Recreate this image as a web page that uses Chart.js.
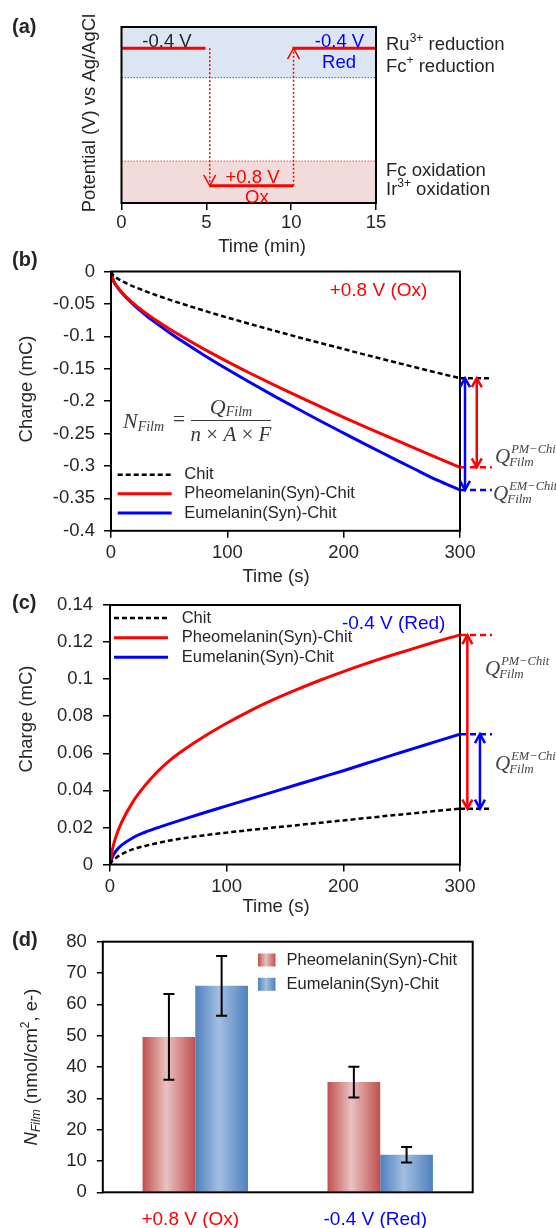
<!DOCTYPE html>
<html lang="en">
<head>
<meta charset="utf-8">
<title>Film charge and electron count</title>
<script src="https://cdn.jsdelivr.net/npm/chart.js@4.4.1/dist/chart.umd.min.js"></script>
<style>
  html, body { margin: 0; padding: 0; background: #fff; }
  #figure { position: relative; width: 556px; height: 1228px; }
  #figure canvas { position: absolute; left: 0; top: 0; }
</style>
</head>
<body>
<div id="figure">
  <canvas id="programChart" width="556" height="1228"></canvas>
  <canvas id="oxChart" width="556" height="1228"></canvas>
  <canvas id="redChart" width="556" height="1228"></canvas>
  <canvas id="filmChart" width="556" height="1228"></canvas>
</div>
<script>
// (a) potential program, time in min
const holdStart = [0, 5.2, 10.07];
const holdEnd = [4.95, 10.14, 15];
const holdPotential = [-0.4, 0.8, -0.4];
const switchTimes = [5.2, 10.14];
const reductionEdge = -0.143;
const oxidationEdge = 0.584;
const potentialMin = -0.585;
const potentialMax = 0.95;

// (b), (c) charge transients, time in s, charge in mC
const times = [0, 2, 5, 10, 20, 30, 40, 50, 60, 80, 100, 120, 140, 160, 180, 200, 220, 240, 260, 280, 300];
const oxChit = [0, -0.006, -0.0102, -0.0153, -0.0236, -0.0307, -0.0372, -0.0434, -0.0492, -0.0604, -0.0710,
  -0.0812, -0.0912, -0.1009, -0.1104, -0.1197, -0.1290, -0.1381, -0.1471, -0.1560, -0.1646];
const oxPheo = [0, -0.0138, -0.0227, -0.0335, -0.0502, -0.0642, -0.0767, -0.0883, -0.0992, -0.1198, -0.1390,
  -0.1573, -0.1749, -0.1920, -0.2086, -0.2249, -0.2408, -0.2564, -0.2718, -0.2870, -0.3020];
const oxEu = [0, -0.0139, -0.0231, -0.0345, -0.0523, -0.0675, -0.0812, -0.0940, -0.1062, -0.1292, -0.1509,
  -0.1717, -0.1918, -0.2114, -0.2306, -0.2493, -0.2678, -0.2859, -0.3039, -0.3216, -0.3370];
const redChit = [0, 0.002, 0.0035, 0.0055, 0.0083, 0.0100, 0.0115, 0.0128, 0.0139, 0.0157, 0.0172,
  0.0186, 0.0199, 0.0212, 0.0225, 0.0238, 0.0251, 0.0264, 0.0276, 0.0289, 0.0301];
const redPheo = [0, 0.0080, 0.0148, 0.0228, 0.0342, 0.0426, 0.0496, 0.0555, 0.0604, 0.0688, 0.0762,
  0.0829, 0.0889, 0.0943, 0.0994, 0.1041, 0.1085, 0.1126, 0.1165, 0.1203, 0.1238];
const redEu = [0, 0.0040, 0.0072, 0.0104, 0.0146, 0.0174, 0.0197, 0.0218, 0.0238, 0.0278, 0.0316,
  0.0354, 0.0392, 0.0430, 0.0468, 0.0506, 0.0546, 0.0586, 0.0625, 0.0664, 0.0703];

// (d) electrons per film area, nmol/cm2
const potentialLabels = ['+0.8 V (Ox)', '-0.4 V (Red)'];
const nPheo = [49.6, 35.2];
const nPheoErr = [13.7, 4.9];
const nEu = [65.9, 12.0];
const nEuErr = [9.5, 2.5];

const W = 556, H = 1228;
const sans = '"Liberation Sans", Arial, sans-serif';
const serif = '"Liberation Serif", "Times New Roman", serif';
const ink = '#262626';
const RED = '#ff0000';
const BLUE = '#0000ff';

Chart.defaults.font.family = sans;
Chart.defaults.font.size = 18.5;
Chart.defaults.color = ink;
Chart.defaults.animation = false;
Chart.defaults.plugins.legend.display = false;
Chart.defaults.plugins.tooltip.enabled = false;
Chart.defaults.elements.point.radius = 0;

const font = (size, style = '') => `${style} ${size}px ${sans}`.trim();
const sfont = (size, style = '') => `${style} ${size}px ${serif}`.trim();

function drawRuns(ctx, runs, x, y, align = 'left') {
  let w = 0;
  for (const r of runs) { ctx.font = r.f || font(18.5); w += ctx.measureText(r.text).width; }
  let cx = align === 'center' ? x - w / 2 : (align === 'right' ? x - w : x);
  ctx.textAlign = 'left';
  for (const r of runs) {
    ctx.font = r.f || font(18.5);
    ctx.fillStyle = r.color || ink;
    ctx.fillText(r.text, cx, y + (r.dy || 0));
    cx += ctx.measureText(r.text).width;
  }
}

// text laid out on the page: panel letters, axis titles, tags
function pageText(items) {
  return {
    id: 'pageText',
    afterDraw(chart) {
      const ctx = chart.ctx;
      ctx.save();
      ctx.textBaseline = 'middle';
      for (const it of items) {
        const runs = it.runs || [{text: it.text, f: it.f, color: it.color}];
        if (it.rotate) {
          ctx.save();
          ctx.translate(it.x, it.y);
          ctx.rotate(-Math.PI / 2);
          drawRuns(ctx, runs, 0, 0, 'center');
          ctx.restore();
        } else {
          drawRuns(ctx, runs, it.x, it.y, it.align || 'center');
        }
      }
      ctx.restore();
    }
  };
}

const frame = {
  id: 'frame',
  afterDatasetsDraw(chart) {
    const {ctx, chartArea: a} = chart;
    ctx.save();
    ctx.strokeStyle = '#000';
    ctx.lineWidth = 2;
    ctx.strokeRect(a.left, a.top, a.right - a.left, a.bottom - a.top);
    ctx.restore();
  }
};

// open V arrowhead, dir 1 points down the page, -1 up
function chevron(ctx, x, y, dir, half, len) {
  ctx.beginPath();
  ctx.moveTo(x - half, y - dir * len);
  ctx.lineTo(x, y);
  ctx.lineTo(x + half, y - dir * len);
  ctx.stroke();
}

function padFor(box) {
  return {left: 0, top: box.top, right: W - box.right, bottom: 0};
}

function xLinear(box, min, max, step, pad) {
  return {
    type: 'linear', min, max,
    ticks: {stepSize: step, padding: pad, maxRotation: 0},
    grid: {drawOnChartArea: false, tickLength: 7, color: '#000', lineWidth: 1.5},
    border: {display: false},
    afterFit: s => { s.height = H - box.bottom; }
  };
}

function yLinear(box, min, max, step, pad) {
  return {
    type: 'linear', min, max,
    ticks: {stepSize: step, padding: pad, callback: v => String(+v.toFixed(2))},
    grid: {drawOnChartArea: false, tickLength: 7, color: '#000', lineWidth: 1.5},
    border: {display: false},
    afterFit: s => { s.width = box.left; }
  };
}

const points = ys => times.map((t, i) => ({x: t, y: ys[i]}));

function chargeSets(chit, pheo, eu) {
  return [
    {label: 'Chit', data: points(chit), borderColor: '#000', borderWidth: 2.5, borderDash: [5, 3], cubicInterpolationMode: 'monotone'},
    {label: 'Pheomelanin(Syn)-Chit', data: points(pheo), borderColor: RED, borderWidth: 3, cubicInterpolationMode: 'monotone'},
    {label: 'Eumelanin(Syn)-Chit', data: points(eu), borderColor: BLUE, borderWidth: 3, cubicInterpolationMode: 'monotone'}
  ];
}

function lineLegend(x0, x1, textX, rows) {
  return {
    id: 'lineLegend',
    afterDraw(chart) {
      const ctx = chart.ctx;
      ctx.save();
      ctx.textBaseline = 'middle';
      chart.data.datasets.forEach((ds, i) => {
        const y = rows[i];
        ctx.strokeStyle = ds.borderColor;
        ctx.lineWidth = ds.borderWidth;
        ctx.setLineDash(ds.borderDash || []);
        ctx.beginPath();
        ctx.moveTo(x0, y);
        ctx.lineTo(x1, y);
        ctx.stroke();
        ctx.fillStyle = ink;
        ctx.font = font(16.5);
        ctx.fillText(ds.label, textX, y);
      });
      ctx.restore();
    }
  };
}

function drawQ(ctx, x, base, sup) {
  ctx.save();
  ctx.fillStyle = '#444';
  ctx.textBaseline = 'alphabetic';
  ctx.textAlign = 'left';
  ctx.font = sfont(21, 'italic');
  ctx.fillText('Q', x, base);
  const w = ctx.measureText('Q').width;
  ctx.font = sfont(12.5, 'italic');
  ctx.fillText(sup, x + w + 1, base - 10);
  ctx.font = sfont(13, 'italic');
  ctx.fillText('Film', x + w - 1, base + 3);
  ctx.restore();
}

// film-charge brackets at the end of each transient
function chargeMarks(ends, extendTo, arrows, qLabels) {
  return {
    id: 'chargeMarks',
    afterDatasetsDraw(chart) {
      const {ctx, scales: {x, y}} = chart;
      const xEnd = x.getPixelForValue(times[times.length - 1]);
      ctx.save();
      ends.forEach(e => {
        const py = y.getPixelForValue(e.value);
        ctx.strokeStyle = e.color;
        ctx.lineWidth = 2.5;
        ctx.setLineDash(e.color === '#000' ? [5, 3] : [6, 4]);
        ctx.beginPath();
        ctx.moveTo(xEnd, py);
        ctx.lineTo(x.getPixelForValue(extendTo), py);
        ctx.stroke();
      });
      ctx.setLineDash([]);
      arrows.forEach(a => {
        const px = x.getPixelForValue(a.t);
        const y0 = y.getPixelForValue(a.from);
        const y1 = y.getPixelForValue(a.to);
        const dir = Math.sign(y1 - y0);
        ctx.strokeStyle = a.color;
        ctx.lineWidth = 2.5;
        ctx.beginPath();
        ctx.moveTo(px, y0);
        ctx.lineTo(px, y1);
        ctx.stroke();
        chevron(ctx, px, y1, dir, 5, 9);
        chevron(ctx, px, y0, -dir, 5, 9);
      });
      ctx.restore();
      qLabels.forEach(q => drawQ(ctx, x.getPixelForValue(q.t), y.getPixelForValue(q.v), q.sup));
    }
  };
}

// ---------- (a) ----------
const boxA = {left: 121.5, top: 27, right: 376, bottom: 203};
const programSets = [
  {data: [{x: 0, y: reductionEdge}, {x: 15, y: reductionEdge}], borderColor: '#3a55ff', borderWidth: 1,
    borderDash: [1.5, 1.5], backgroundColor: '#dce6f2', fill: {value: potentialMin}, order: 5},
  {data: [{x: 0, y: oxidationEdge}, {x: 15, y: oxidationEdge}], borderColor: '#ff4a4a', borderWidth: 1,
    borderDash: [1.5, 1.5], backgroundColor: '#f2dcdb', fill: {value: potentialMax}, order: 5},
  ...holdPotential.map((v, i) => ({data: [{x: holdStart[i], y: v}, {x: holdEnd[i], y: v}],
    borderColor: RED, borderWidth: 3, order: 0})),
  ...switchTimes.map((t, i) => ({data: [{x: t, y: holdPotential[i]}, {x: t, y: holdPotential[i + 1]}],
    borderColor: RED, borderWidth: 1.5, borderDash: [2, 2], order: 1}))
];

const programTags = [
  {t: 2.68, v: -0.4, dy: -6.6, text: '-0.4 V', color: ink},
  {t: 12.85, v: -0.4, dy: -6.6, text: '-0.4 V', color: BLUE},
  {t: 12.82, v: -0.4, dy: 14.7, text: 'Red', color: BLUE},
  {t: 7.72, v: 0.8, dy: -7.7, text: '+0.8 V', color: RED},
  {t: 7.98, v: 0.8, dy: 12.3, text: 'Ox', color: RED}
];

const programMarks = {
  id: 'programMarks',
  afterDatasetsDraw(chart) {
    const {ctx, scales: {x, y}} = chart;
    ctx.save();
    ctx.strokeStyle = RED;
    ctx.lineWidth = 1.5;
    switchTimes.forEach((t, i) => {
      const from = y.getPixelForValue(holdPotential[i]);
      const tip = y.getPixelForValue(holdPotential[i + 1]);
      chevron(ctx, x.getPixelForValue(t), tip, Math.sign(tip - from), 6, 11);
    });
    ctx.textBaseline = 'middle';
    ctx.textAlign = 'center';
    ctx.font = font(18.5);
    programTags.forEach(l => {
      ctx.fillStyle = l.color;
      ctx.fillText(l.text, x.getPixelForValue(l.t), y.getPixelForValue(l.v) + l.dy);
    });
    ctx.restore();
  }
};

const sup = (s, dy = -6) => ({text: s, f: font(12), dy});

new Chart(document.getElementById('programChart'), {
  type: 'line',
  data: {datasets: programSets},
  options: {
    responsive: false,
    devicePixelRatio: 1,
    layout: {padding: padFor(boxA)},
    scales: {
      x: xLinear(boxA, 0, 15, 5, 2),
      y: {type: 'linear', reverse: true, min: potentialMin, max: potentialMax,
        ticks: {display: false}, grid: {display: false}, border: {display: false},
        afterFit: s => { s.width = boxA.left; }}
    }
  },
  plugins: [frame, programMarks, pageText([
    {text: '(a)', x: 12, y: 27, align: 'left', f: font(20, 'bold')},
    {text: 'Potential (V) vs Ag/AgCl', x: 90, y: 113, rotate: true},
    {text: 'Time (min)', x: 262, y: 247},
    {runs: [{text: 'Ru'}, sup('3+'), {text: ' reduction'}], x: 386, y: 45, align: 'left'},
    {runs: [{text: 'Fc'}, sup('+'), {text: ' reduction'}], x: 386, y: 67, align: 'left'},
    {text: 'Fc oxidation', x: 386, y: 171, align: 'left'},
    {runs: [{text: 'Ir'}, sup('3+'), {text: ' oxidation'}], x: 386, y: 190, align: 'left'}
  ])]
});

// ---------- (b) ----------
const boxB = {left: 111, top: 271.5, right: 460, bottom: 530.8};
const last = a => a[a.length - 1];

const filmFormula = {
  id: 'filmFormula',
  afterDraw(chart) {
    const ctx = chart.ctx;
    ctx.save();
    ctx.textBaseline = 'alphabetic';
    const g = '#3a3a3a';
    drawRuns(ctx, [{text: 'N', f: sfont(22, 'italic'), color: g},
      {text: 'Film', f: sfont(14, 'italic'), dy: 3, color: g}], 123, 428, 'left');
    drawRuns(ctx, [{text: '=', f: sfont(22), color: g}], 179, 426, 'center');
    drawRuns(ctx, [{text: 'Q', f: sfont(22, 'italic'), color: g},
      {text: 'Film', f: sfont(14, 'italic'), dy: 2, color: g}], 231, 414, 'center');
    ctx.strokeStyle = g;
    ctx.lineWidth = 1.2;
    ctx.beginPath();
    ctx.moveTo(191, 420.5);
    ctx.lineTo(271, 420.5);
    ctx.stroke();
    drawRuns(ctx, [{text: 'n', f: sfont(21, 'italic'), color: g}, {text: ' × ', f: sfont(21), color: g},
      {text: 'A', f: sfont(21, 'italic'), color: g}, {text: ' × ', f: sfont(21), color: g},
      {text: 'F', f: sfont(21, 'italic'), color: g}], 231, 441, 'center');
    ctx.restore();
  }
};

new Chart(document.getElementById('oxChart'), {
  type: 'line',
  data: {datasets: chargeSets(oxChit, oxPheo, oxEu)},
  options: {
    responsive: false,
    devicePixelRatio: 1,
    layout: {padding: padFor(boxB)},
    scales: {
      x: xLinear(boxB, 0, 300, 100, 4),
      y: yLinear(boxB, -0.4, 0, 0.05, 9)
    }
  },
  plugins: [frame,
    chargeMarks(
      [{value: last(oxChit), color: '#000'}, {value: last(oxPheo), color: RED}, {value: last(oxEu), color: BLUE}],
      327.3,
      [{t: 304.3, from: last(oxChit), to: last(oxEu), color: BLUE},
       {t: 314.4, from: last(oxChit), to: last(oxPheo), color: RED}],
      [{t: 330.1, v: -0.2958, sup: 'PM−Chit'}, {t: 328.4, v: -0.3529, sup: 'EM−Chit'}]),
    lineLegend(117.7, 171.7, 184.3, [474.7, 493.7, 513]),
    filmFormula,
    pageText([
      {text: '(b)', x: 12, y: 260, align: 'left', f: font(20, 'bold')},
      {text: 'Charge (mC)', x: 27, y: 389, rotate: true},
      {text: 'Time (s)', x: 276, y: 577},
      {text: '+0.8 V (Ox)', x: 378.5, y: 290.7, color: RED, f: font(19)}
    ])]
});

// ---------- (c) ----------
const boxC = {left: 110, top: 605, right: 460, bottom: 864.5};

new Chart(document.getElementById('redChart'), {
  type: 'line',
  data: {datasets: chargeSets(redChit, redPheo, redEu)},
  options: {
    responsive: false,
    devicePixelRatio: 1,
    layout: {padding: padFor(boxC)},
    scales: {
      x: xLinear(boxC, 0, 300, 100, 4),
      y: yLinear(boxC, 0, 0.14, 0.02, 10)
    }
  },
  plugins: [frame,
    chargeMarks(
      [{value: last(redChit), color: '#000'}, {value: last(redPheo), color: RED}, {value: last(redEu), color: BLUE}],
      327.4,
      [{t: 306.3, from: last(redChit), to: last(redPheo), color: RED},
       {t: 317.1, from: last(redChit), to: last(redEu), color: BLUE}],
      [{t: 321.4, v: 0.1024, sup: 'PM−Chit'}, {t: 330, v: 0.0511, sup: 'EM−Chit'}]),
    lineLegend(114, 168, 181.7, [618, 637.7, 657.3]),
    pageText([
      {text: '(c)', x: 12, y: 603, align: 'left', f: font(20, 'bold')},
      {text: 'Charge (mC)', x: 27, y: 719, rotate: true},
      {text: 'Time (s)', x: 276, y: 907},
      {text: '-0.4 V (Red)', x: 393.7, y: 623.3, color: BLUE, f: font(19)}
    ])]
});

// ---------- (d) ----------
const boxD = {left: 102.8, top: 941.7, right: 472.7, bottom: 1192.3};
const barShades = [
  ['#c0504d', '#e9c2c1', '#c0504d'],
  ['#4f81bd', '#a3bee2', '#4f81bd']
];
const labelColors = [RED, BLUE];

function shade(ctx, x0, x1, stops) {
  const g = ctx.createLinearGradient(x0, 0, x1, 0);
  g.addColorStop(0, stops[0]);
  g.addColorStop(0.45, stops[1]);
  g.addColorStop(1, stops[2]);
  return g;
}

const barDecor = {
  id: 'barDecor',
  beforeDatasetsDraw(chart) {
    const ctx = chart.ctx;
    chart.data.datasets.forEach((ds, di) => {
      chart.getDatasetMeta(di).data.forEach(bar => {
        const g = shade(ctx, bar.x - bar.width / 2, bar.x + bar.width / 2, barShades[di]);
        bar.options = Object.assign({}, bar.options, {backgroundColor: g});
      });
    });
  },
  afterDatasetsDraw(chart) {
    const {ctx, scales: {y}} = chart;
    const errs = [nPheoErr, nEuErr];
    ctx.save();
    ctx.strokeStyle = '#000';
    ctx.lineWidth = 2;
    chart.data.datasets.forEach((ds, di) => {
      chart.getDatasetMeta(di).data.forEach((bar, i) => {
        const v = ds.data[i];
        const top = y.getPixelForValue(v + errs[di][i]);
        const bot = y.getPixelForValue(v - errs[di][i]);
        ctx.beginPath();
        ctx.moveTo(bar.x, top); ctx.lineTo(bar.x, bot);
        ctx.moveTo(bar.x - 5.5, top); ctx.lineTo(bar.x + 5.5, top);
        ctx.moveTo(bar.x - 5.5, bot); ctx.lineTo(bar.x + 5.5, bot);
        ctx.stroke();
      });
    });
    ctx.restore();
    // legend
    ctx.save();
    ctx.textBaseline = 'middle';
    ctx.font = font(16.5);
    const rows = [960, 984.3];
    chart.data.datasets.forEach((ds, di) => {
      ctx.fillStyle = shade(ctx, 258, 275.5, barShades[di]);
      ctx.fillRect(258, rows[di] - 6.5, 17.5, 13);
      ctx.fillStyle = ink;
      ctx.fillText(ds.label, 286.5, rows[di]);
    });
    ctx.restore();
  }
};

new Chart(document.getElementById('filmChart'), {
  type: 'bar',
  data: {
    labels: potentialLabels,
    datasets: [
      {label: 'Pheomelanin(Syn)-Chit', data: nPheo, backgroundColor: '#c0504d', barPercentage: 1, categoryPercentage: 0.57},
      {label: 'Eumelanin(Syn)-Chit', data: nEu, backgroundColor: '#4f81bd', barPercentage: 1, categoryPercentage: 0.57}
    ]
  },
  options: {
    responsive: false,
    devicePixelRatio: 1,
    layout: {padding: padFor(boxD)},
    scales: {
      x: {
        grid: {display: false},
        border: {display: false},
        ticks: {padding: 8, labelOffset: -5, color: c => labelColors[c.index], font: {size: 19}},
        afterFit: s => { s.height = H - boxD.bottom; }
      },
      y: {
        min: 0, max: 80,
        ticks: {stepSize: 10, padding: 10},
        grid: {drawOnChartArea: false, tickLength: 6, color: '#000', lineWidth: 1.5},
        border: {display: false},
        afterFit: s => { s.width = boxD.left; }
      }
    }
  },
  plugins: [frame, barDecor, pageText([
    {text: '(d)', x: 12, y: 940, align: 'left', f: font(20, 'bold')},
    {runs: [{text: 'N', f: font(18.5, 'italic')}, {text: 'Film', f: font(12, 'italic'), dy: 5},
      {text: ' (nmol/cm'}, sup('2'), {text: ', e-)'}], x: 32, y: 1067, rotate: true}
  ])]
});
</script>
</body>
</html>
